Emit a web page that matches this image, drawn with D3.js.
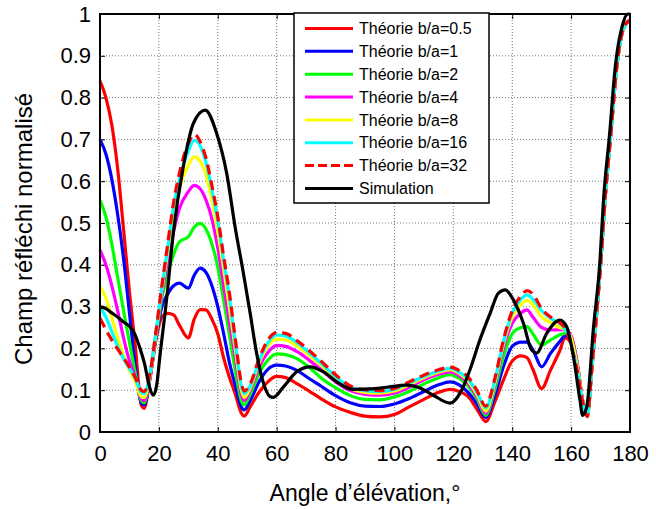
<!DOCTYPE html>
<html><head><meta charset="utf-8">
<script src="https://cdn.jsdelivr.net/npm/d3@7"></script>
<style>
body{margin:0;background:#fff;}
text{font-family:"Liberation Sans",Arial,sans-serif;}
</style></head>
<body>
<svg id="chart" width="656" height="509"></svg>
<script>
// ---------- data ----------
const angles = [0,2,4,6,8,10,12,14,15,17,19,21,23,25,27,30,32,34,36,38,40,42,44,46,48,49,51,54,57,60,63,67,71,75,80,85,90,95,100,105,110,115,119,122,125,128,131,134,137,140,143,145,147,150,153,156,158,160,162,164,165.5,167,168.5,170,171.5,173.5,175.5,177.5,179,180];

const theory05 = [0.84,0.80,0.735,0.63,0.485,0.335,0.205,0.065,
0.057,0.13,0.22,0.275,0.284,0.28,0.255,
0.225,0.27,0.293,0.292,0.27,0.235,0.177,0.13,0.09,0.045,
0.038,0.06,0.095,0.12,0.133,0.13,0.115,0.098,0.08,0.06,
0.047,0.038,0.036,0.042,0.06,0.078,0.095,0.102,0.097,0.085,
0.055,0.025,0.07,0.124,0.17,0.182,0.178,0.15,0.104,0.148,
0.192,0.225,0.215,0.16,0.07,0.04,0.15,0.27,0.40,0.555,
0.715,0.874,0.96,0.98,0.985];

const theory1 = [0.70,0.665,0.605,0.52,0.415,0.285,0.155,0.07,
0.065,0.13,0.225,0.30,0.33,0.35,0.356,
0.344,0.375,0.392,0.382,0.35,0.30,0.235,0.165,0.11,0.06,
0.053,0.075,0.12,0.15,0.16,0.158,0.147,0.128,0.11,0.087,
0.07,0.062,0.061,0.067,0.08,0.097,0.113,0.12,0.113,0.095,
0.068,0.035,0.085,0.156,0.205,0.215,0.215,0.197,0.156,0.188,
0.215,0.23,0.225,0.165,0.072,0.04,0.15,0.27,0.40,0.555,
0.715,0.874,0.96,0.98,0.985];

const theory2 = [0.555,0.515,0.45,0.37,0.29,0.215,0.14,0.075,
0.07,0.135,0.23,0.32,0.38,0.425,0.455,
0.467,0.49,0.499,0.485,0.45,0.395,0.315,0.23,0.145,0.075,
0.065,0.09,0.14,0.172,0.187,0.185,0.175,0.155,0.13,0.106,
0.087,0.078,0.077,0.084,0.097,0.115,0.13,0.137,0.128,0.11,
0.08,0.04,0.1,0.18,0.235,0.25,0.252,0.235,0.208,0.22,
0.232,0.236,0.228,0.168,0.073,0.04,0.15,0.27,0.40,0.555,
0.715,0.874,0.96,0.98,0.985];

const theory4 = [0.435,0.40,0.35,0.29,0.225,0.17,0.13,0.08,
0.075,0.135,0.235,0.33,0.41,0.48,0.535,
0.575,0.59,0.582,0.555,0.51,0.44,0.35,0.26,0.175,0.09,
0.075,0.10,0.155,0.19,0.207,0.205,0.192,0.172,0.15,0.12,
0.099,0.09,0.088,0.093,0.107,0.125,0.138,0.144,0.135,0.117,
0.085,0.045,0.11,0.20,0.26,0.285,0.292,0.275,0.25,0.244,
0.245,0.245,0.23,0.168,0.073,0.04,0.15,0.27,0.40,0.555,
0.715,0.874,0.96,0.98,0.985];

const theory8 = [0.348,0.32,0.275,0.225,0.182,0.148,0.12,0.085,
0.082,0.135,0.235,0.34,0.43,0.52,0.585,
0.638,0.658,0.648,0.615,0.555,0.48,0.39,0.295,0.195,0.10,
0.083,0.105,0.165,0.205,0.222,0.22,0.205,0.183,0.16,0.128,
0.104,0.095,0.093,0.098,0.113,0.13,0.143,0.149,0.14,0.122,
0.09,0.05,0.115,0.21,0.275,0.305,0.315,0.305,0.275,0.262,
0.25,0.245,0.225,0.16,0.072,0.038,0.15,0.27,0.40,0.555,
0.715,0.874,0.96,0.98,0.985];

const theory16 = [0.298,0.275,0.24,0.205,0.175,0.152,0.128,0.095,
0.092,0.14,0.24,0.345,0.44,0.54,0.605,
0.672,0.698,0.685,0.645,0.58,0.505,0.41,0.32,0.21,0.11,
0.092,0.11,0.17,0.213,0.232,0.23,0.213,0.19,0.165,0.133,
0.107,0.099,0.097,0.102,0.117,0.133,0.146,0.152,0.143,0.127,
0.095,0.058,0.12,0.215,0.285,0.318,0.328,0.318,0.29,0.272,
0.26,0.245,0.21,0.15,0.07,0.037,0.15,0.27,0.40,0.555,
0.715,0.874,0.96,0.98,0.985];

const theory32 = [0.272,0.245,0.22,0.198,0.177,0.155,0.13,0.10,
0.097,0.14,0.24,0.35,0.45,0.55,0.62,
0.69,0.712,0.695,0.655,0.59,0.515,0.42,0.33,0.22,0.118,
0.098,0.115,0.175,0.22,0.238,0.236,0.218,0.195,0.17,0.137,
0.11,0.101,0.099,0.104,0.12,0.136,0.149,0.155,0.147,0.132,
0.10,0.062,0.125,0.22,0.29,0.326,0.338,0.33,0.295,0.275,
0.262,0.248,0.205,0.15,0.07,0.037,0.15,0.27,0.40,0.555,
0.715,0.874,0.96,0.98,0.985];

const simAngles = [0,2,4,6,8,10,11.7,13.4,15.1,16.8,18.1,19.2,20.4,22.6,24.9,28.3,31.7,35.7,39.6,43,45.9,48.7,51,53.2,55.5,57.7,58.9,62.3,66.8,71.3,75.9,80.4,86,91.7,97.4,104.1,108.7,113.2,118.9,122.3,125.7,129,132.5,135.3,137.6,140.4,143.8,146.6,148.3,151.7,156.2,158.5,160.8,163,163.9,165.3,167.6,169.8,171,173.1,175,177.3,179.3,180];
const simulation = [0.30,0.295,0.285,0.275,0.263,0.253,0.236,0.204,0.164,0.108,0.088,0.11,0.185,0.316,0.476,0.635,0.738,0.77,0.715,0.62,0.49,0.38,0.284,0.188,0.117,0.085,0.083,0.108,0.144,0.156,0.144,0.12,0.102,0.103,0.107,0.112,0.105,0.088,0.069,0.093,0.15,0.22,0.284,0.332,0.34,0.316,0.26,0.196,0.189,0.236,0.268,0.252,0.18,0.077,0.04,0.06,0.25,0.41,0.555,0.715,0.874,0.97,1.0,1.0];

const seriesNames = ["Théorie b/a=0.5","Théorie b/a=1","Théorie b/a=2","Théorie b/a=4","Théorie b/a=8","Théorie b/a=16","Théorie b/a=32","Simulation"];
const seriesColors = ["#ff0000","#0000ff","#00ff00","#ff00ff","#ffff00","#00ffff","#ff0000","#000000"];
const xTicks = [0,20,40,60,80,100,120,140,160,180];
const yTicks = [0,0.1,0.2,0.3,0.4,0.5,0.6,0.7,0.8,0.9,1];
const xTitle = "Angle d’élévation,°";
const yTitle = "Champ réfléchi normalisé";

// ---------- layout ----------
const L = 100, R = 630, T = 14, B = 432;
const svg = d3.select("#chart");
const x = d3.scaleLinear().domain([0,180]).range([L,R]);
const y = d3.scaleLinear().domain([0,1]).range([B,T]);
const fmtY = d => (d===0||d===1) ? String(d) : d3.format(".1f")(d);

// grid
const grid = svg.append("g");
grid.selectAll("line.gx").data(xTicks.slice(1,-1)).join("line")
  .attr("x1",d=>x(d)).attr("x2",d=>x(d)).attr("y1",T).attr("y2",B)
  .attr("stroke","#777").attr("stroke-width",1).attr("stroke-dasharray","1,2");
grid.selectAll("line.gy").data(yTicks.slice(1,-1)).join("line")
  .attr("x1",L).attr("x2",R).attr("y1",d=>y(d)).attr("y2",d=>y(d))
  .attr("stroke","#777").attr("stroke-width",1).attr("stroke-dasharray","1,2");

// axes (ticks inward)
const axB = svg.append("g").attr("transform",`translate(0,${B})`)
  .call(d3.axisBottom(x).tickValues(xTicks).tickSize(-5).tickPadding(13).tickFormat(d3.format("d")));
const axL = svg.append("g").attr("transform",`translate(${L},0)`)
  .call(d3.axisLeft(y).tickValues(yTicks).tickSize(-5).tickPadding(9).tickFormat(fmtY));
const axT = svg.append("g").attr("transform",`translate(0,${T})`)
  .call(d3.axisTop(x).tickValues(xTicks).tickSize(-5).tickFormat(""));
const axR = svg.append("g").attr("transform",`translate(${R},0)`)
  .call(d3.axisRight(y).tickValues(yTicks).tickSize(-5).tickFormat(""));
[axB,axL,axT,axR].forEach(a=>{
  a.select(".domain").remove();
  a.selectAll(".tick line").attr("stroke","#000").attr("stroke-width",1);
  a.selectAll("text").attr("font-size",22).attr("fill","#000")
   .attr("font-family",'"Liberation Sans",Arial,sans-serif');
});

// lines
const allTheory = [theory05,theory1,theory2,theory4,theory8,theory16,theory32];
const line = d3.line().x(d=>x(d[0])).y(d=>y(d[1])).curve(d3.curveMonotoneX);
const g = svg.append("g").attr("fill","none").attr("stroke-linejoin","round").attr("stroke-linecap","butt");
allTheory.forEach((vals,i)=>{
  g.append("path").datum(angles.map((a,k)=>[a,vals[k]]))
   .attr("d",line).attr("stroke",seriesColors[i]).attr("stroke-width",3.2)
   .attr("stroke-dasharray", i===6 ? "10,6" : null);
});
g.append("path").datum(simAngles.map((a,k)=>[a,simulation[k]]))
  .attr("d",line).attr("stroke","#000").attr("stroke-width",3.2);

// frame
svg.append("rect").attr("x",L).attr("y",T).attr("width",R-L).attr("height",B-T)
  .attr("fill","none").attr("stroke","#000").attr("stroke-width",2);

// titles
svg.append("text").attr("x",(L+R)/2).attr("y",501).attr("text-anchor","middle")
  .attr("font-size",23).text(xTitle);
svg.append("text").attr("transform",`translate(32,229) rotate(-90)`)
  .attr("text-anchor","middle").attr("font-size",24).text(yTitle);

// legend
const lg = svg.append("g");
lg.append("rect").attr("x",294).attr("y",13).attr("width",195).attr("height",190)
  .attr("fill","#fff").attr("stroke","#000").attr("stroke-width",1.5);
seriesNames.forEach((n,i)=>{
  const yy = 28.5 + i*22.85;
  lg.append("line").attr("x1",305).attr("x2",353).attr("y1",yy).attr("y2",yy)
    .attr("stroke",seriesColors[i]).attr("stroke-width",3)
    .attr("stroke-dasharray", i===6 ? "9,4" : null);
  lg.append("text").attr("x",359).attr("y",yy).attr("dy","0.35em")
    .attr("font-size",16).text(n);
});
</script>
</body></html>
